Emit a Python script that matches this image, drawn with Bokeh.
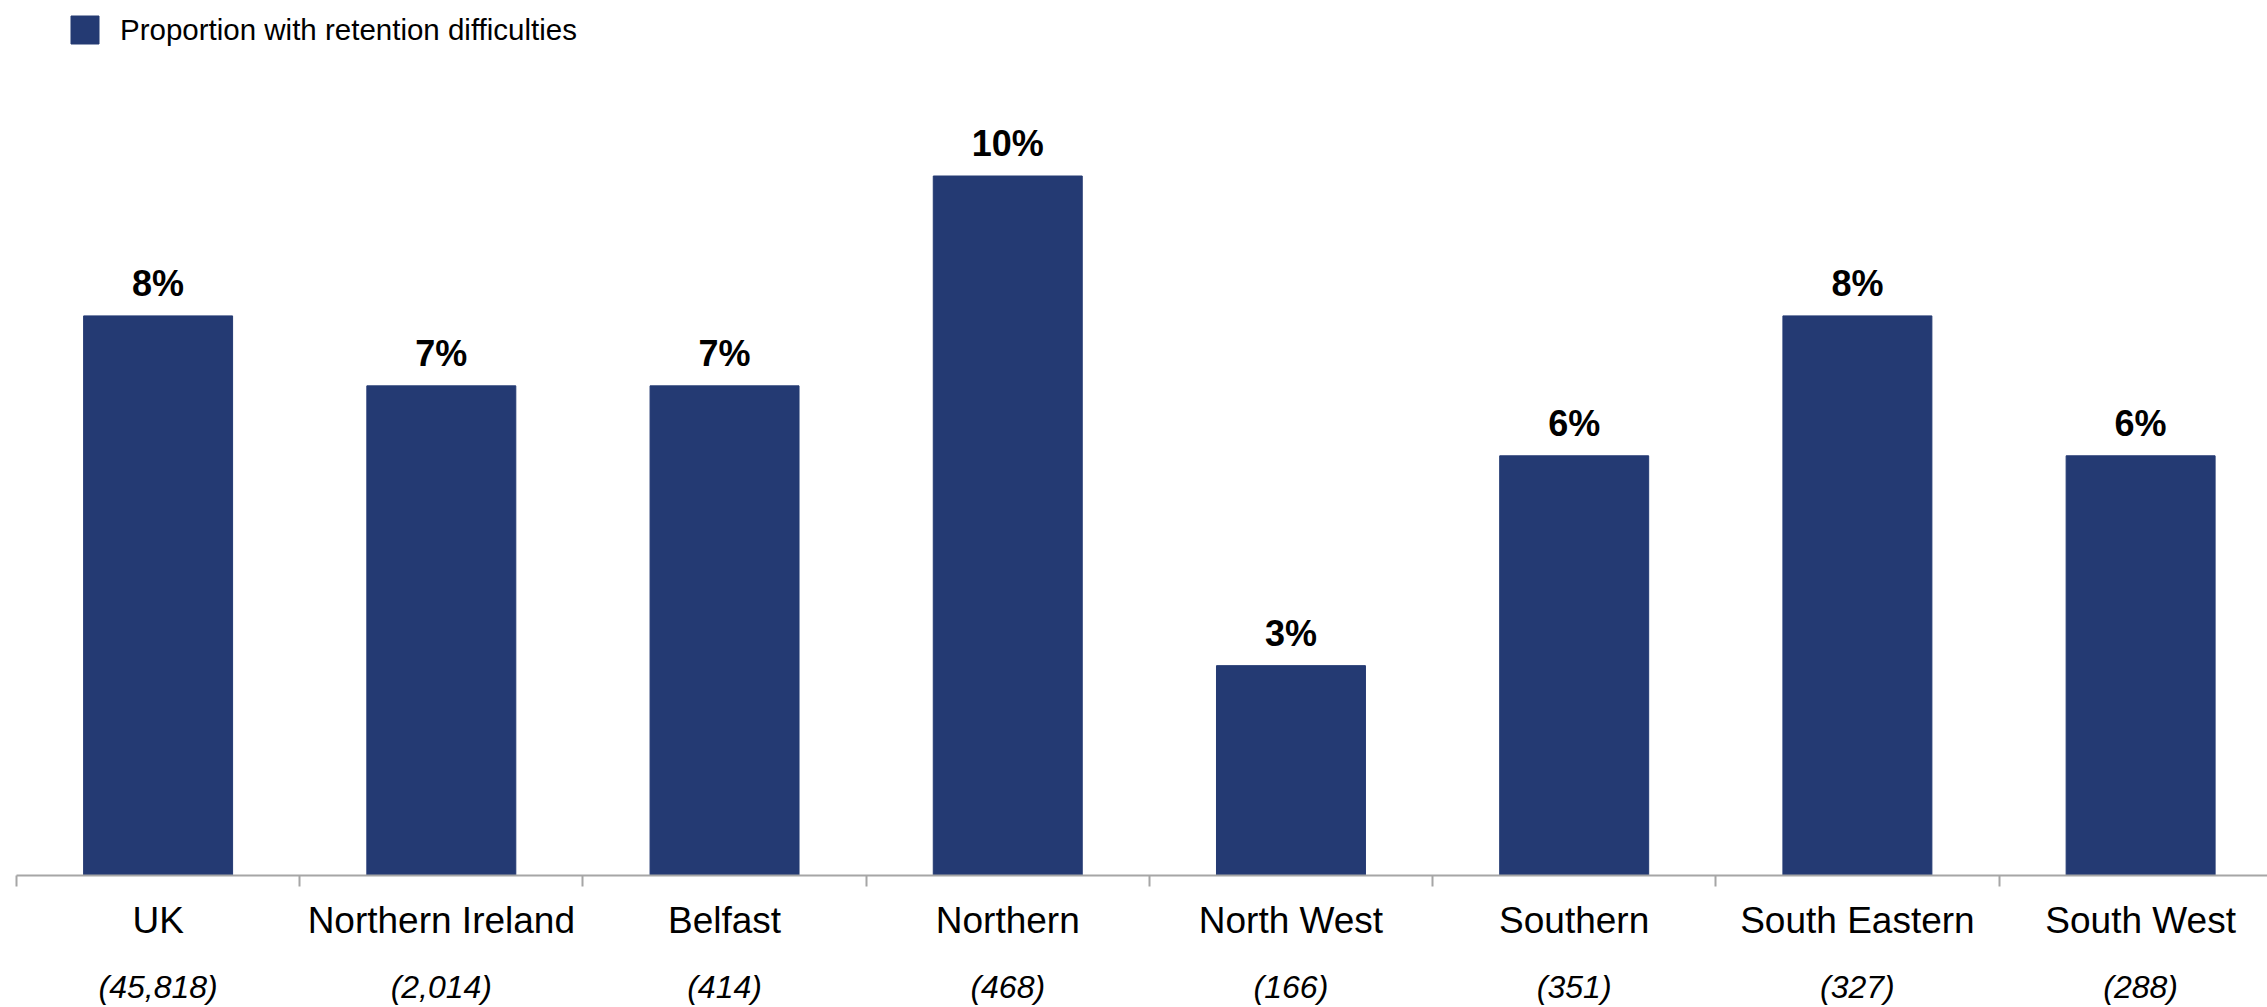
from bokeh.plotting import figure
from bokeh.models import (Range1d, FixedTicker, LinearAxis, ColumnDataSource,
                          LabelSet, Legend, LegendItem)
from bokeh.core.properties import value
from bokeh.embed import file_html
from bokeh.resources import INLINE

categories = ["UK", "Northern Ireland", "Belfast", "Northern", "North West",
              "Southern", "South Eastern", "South West"]
sample_sizes = ["(45,818)", "(2,014)", "(414)", "(468)", "(166)",
                "(351)", "(327)", "(288)"]
values = [8, 7, 7, 10, 3, 6, 8, 6]
series_name = "Proportion with retention difficulties"

n = len(categories)
centers = [i + 0.5 for i in range(n)]
bounds = [float(i) for i in range(n + 1)]
value_labels = [f"{v}%" for v in values]

source = ColumnDataSource(dict(x=centers, top=values, label=value_labels))

FONT = "Liberation Sans"
BAR = "#243a73"
AXIS = "#a6a6a6"

p = figure(width=2267, height=1007,
           x_range=Range1d(0, 7.948), y_range=Range1d(0, 12.509),
           output_backend="svg", toolbar_location=None,
           x_axis_location=None, y_axis_location=None,
           min_border_left=16, min_border_right=0,
           min_border_top=0, min_border_bottom=0,
           outline_line_color=None)
p.grid.visible = False

r = p.vbar(x="x", top="top", width=0.526, source=source,
           fill_color=BAR, line_color=BAR)

ax1 = LinearAxis(ticker=FixedTicker(ticks=centers, minor_ticks=bounds))
ax1.major_label_overrides = {c: name for c, name in zip(centers, categories)}
ax1.major_tick_out = 0
ax1.major_tick_in = 0
ax1.major_tick_line_color = None
ax1.minor_tick_out = 11
ax1.minor_tick_in = 0
ax1.minor_tick_line_color = AXIS
ax1.minor_tick_line_width = 2
ax1.axis_line_color = AXIS
ax1.axis_line_width = 2
ax1.major_label_text_font = FONT
ax1.major_label_text_font_size = "37px"
ax1.major_label_text_color = "black"
ax1.major_label_standoff = 13
p.add_layout(ax1, "below")

ax2 = LinearAxis(ticker=FixedTicker(ticks=centers))
ax2.major_label_overrides = {c: s for c, s in zip(centers, sample_sizes)}
ax2.major_tick_out = 0
ax2.major_tick_in = 0
ax2.major_tick_line_color = None
ax2.minor_tick_line_color = None
ax2.axis_line_color = None
ax2.major_label_text_font = FONT
ax2.major_label_text_font_size = "32px"
ax2.major_label_text_font_style = "italic"
ax2.major_label_text_color = "black"
ax2.major_label_standoff = 25
p.add_layout(ax2, "below")

labels = LabelSet(x="x", y="top", text="label", source=source,
                  y_offset=20, text_align="center", text_baseline="alphabetic",
                  text_font=value(FONT), text_font_size="36px",
                  text_font_style="bold", text_color="black")
p.add_layout(labels)

legend = Legend(items=[LegendItem(label=series_name, renderers=[r])],
                location=(51, 828), glyph_width=35, glyph_height=35,
                label_height=35, label_standoff=18,
                label_text_font=FONT, label_text_font_size="29.5px",
                label_text_color="black",
                padding=0, margin=0, border_line_color=None,
                background_fill_alpha=0)
p.add_layout(legend)

open("out.html", "w").write(file_html(p, INLINE))
